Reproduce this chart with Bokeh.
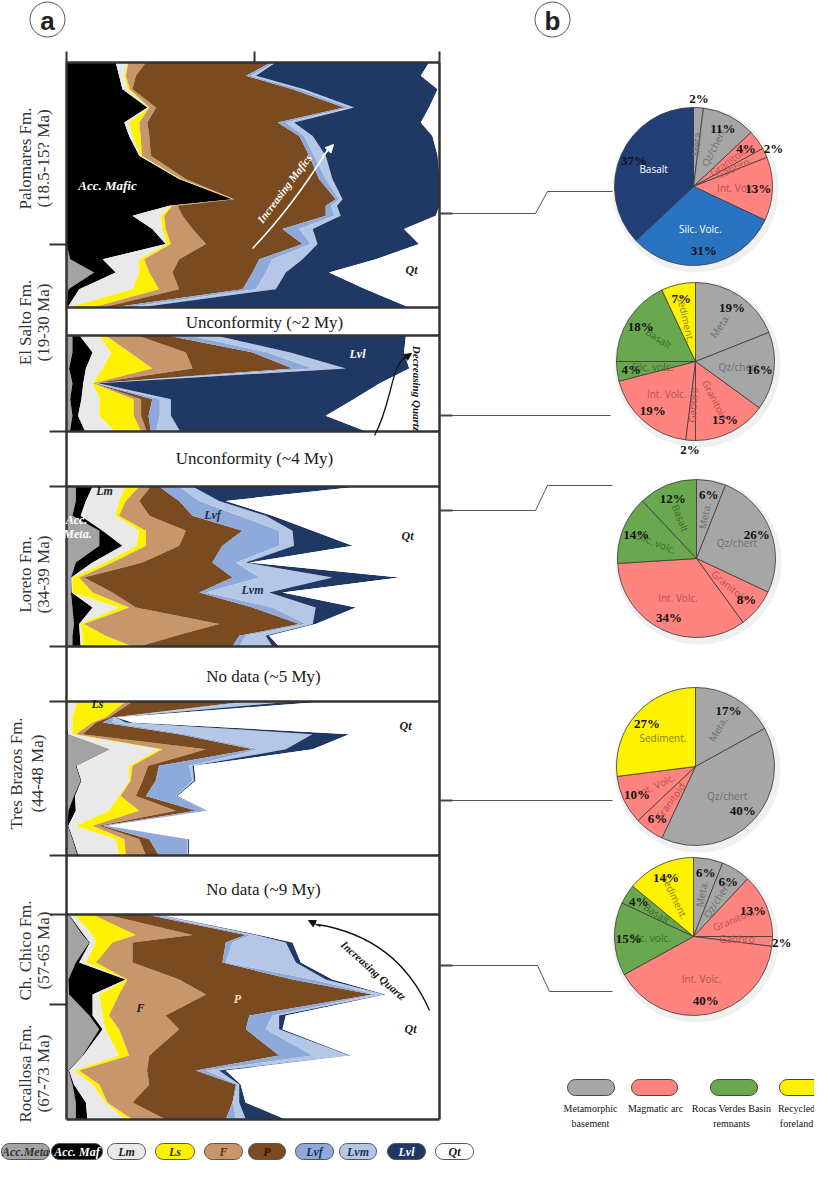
import numpy as np
from bokeh.plotting import figure
from bokeh.models import Range1d, ColumnDataSource, Arrow, NormalHead
from bokeh.core.properties import value
from bokeh.embed import file_html
from bokeh.resources import INLINE

# ---------------------------------------------------------------- data
components = ["acc_meta", "acc_maf", "lm", "ls", "f", "p", "lvf", "lvm", "lvl", "qt"]
component_labels = ["Acc.Meta", "Acc. Maf", "Lm", "Ls", "F", "P", "Lvf", "Lvm", "Lvl", "Qt"]

# relative stratigraphic position of each profile vertex (0 = top of panel, 1 = bottom)
# and cumulative upper boundary (%) of the first nine components (Qt fills to 100 %)
palomares_t = [0.0, 0.054, 0.109, 0.184, 0.245, 0.30, 0.381, 0.476, 0.558, 0.585,
               0.626, 0.68, 0.741, 0.803, 0.857, 0.925, 1.0]
palomares_bounds = [
    [0, 13.2, 16.4, 16.6, 21.3, 54.8, 55.7, 56.1, 97.2],
    [0, 14.1, 15.5, 15.9, 18.6, 48.1, 49.4, 50.8, 95.0],
    [0, 15.0, 16.4, 17.0, 17.7, 60.6, 62.4, 63.7, 99.5],
    [0, 21.7, 22.0, 22.2, 24.0, 74.4, 75.8, 77.1, 97.2],
    [0, 15.5, 16.8, 19.5, 21.7, 56.6, 58.8, 61.0, 95.0],
    [0, 16.8, 17.7, 19.9, 22.2, 62.4, 63.7, 66.0, 98.1],
    [0, 19.5, 19.9, 20.2, 22.6, 65.1, 66.4, 69.5, 99.5],
    [0, 30.2, 30.4, 30.7, 32.0, 67.7, 69.5, 71.3, 100],
    [0, 44.5, 44.7, 44.9, 45.0, 72.2, 73.1, 74.0, 100],
    [0, 27.5, 28.0, 28.4, 29.8, 69.5, 71.0, 72.5, 100],
    [0, 17.7, 25.3, 26.2, 31.1, 69.5, 71.8, 73.5, 99.0],
    [0, 23.0, 25.7, 26.6, 33.8, 57.9, 62.4, 66.0, 90.5],
    [0, 26.6, 27.0, 28.0, 37.4, 63.3, 65.5, 67.3, 94.5],
    [1.0, 9.7, 19.5, 20.8, 30.2, 51.7, 55.2, 63.3, 82.9],
    [7.4, 13.2, 19.5, 22.2, 28.4, 49.9, 53.4, 58.8, 70.4],
    [0.5, 3.4, 17.7, 24.8, 30.2, 47.2, 50.8, 56.1, 80.2],
    [0, 0.3, 0.5, 7.0, 9.7, 12.3, 15.9, 19.5, 91.9],
]

elsalto_t = [0.0, 0.177, 0.344, 0.497, 0.663, 0.837, 1.0]
elsalto_bounds = [
    [1.6, 3.5, 8.8, 10.5, 19.0, 27.0, 33.0, 40.0, 91.0],
    [1.6, 7.0, 12.0, 17.0, 32.0, 50.0, 54.0, 60.0, 90.5],
    [0.7, 5.2, 9.7, 23.0, 33.8, 60.6, 66.0, 74.9, 91.9],
    [1.6, 4.5, 7.0, 7.2, 7.4, 7.6, 8.0, 8.5, 84.0],
    [1.0, 4.0, 9.0, 18.0, 20.0, 23.0, 25.0, 28.0, 77.0],
    [1.6, 3.1, 8.8, 18.0, 20.0, 22.0, 25.0, 28.0, 69.5],
    [0.9, 5.0, 13.0, 20.0, 21.5, 22.6, 24.0, 30.5, 80.4],
]

loreto_t = [0.0, 0.09, 0.183, 0.277, 0.371, 0.475, 0.569, 0.663, 0.756, 0.86, 0.933, 1.0]
loreto_bounds = [
    [2.5, 7.0, 15.9, 19.5, 22.6, 24.8, 30.2, 33.8, 78.5],
    [2.5, 5.2, 14.1, 15.9, 19.5, 30.2, 35.6, 40.9, 42.7],
    [1.6, 3.8, 13.2, 14.1, 22.2, 33.8, 46.3, 53.4, 55.2],
    [8.8, 9.7, 19.5, 21.3, 32.0, 47.2, 57.0, 60.6, 66.0],
    [8.8, 15.0, 18.8, 21.3, 30.2, 41.8, 57.0, 61.0, 76.7],
    [2.5, 7.0, 10.5, 12.3, 20.4, 39.1, 45.4, 48.1, 49.0],
    [1.2, 1.3, 1.6, 3.4, 4.7, 44.5, 51.7, 71.3, 89.2],
    [1.2, 1.4, 1.6, 7.0, 12.3, 35.6, 37.4, 54.3, 57.9],
    [1.6, 7.0, 14.1, 16.8, 18.6, 49.9, 55.2, 66.8, 77.6],
    [2.0, 3.4, 3.8, 4.7, 40.9, 62.4, 64.2, 66.0, 66.8],
    [1.6, 3.6, 4.3, 10.5, 29.3, 46.3, 48.1, 53.4, 54.3],
    [1.6, 3.8, 4.3, 17.7, 19.5, 44.5, 46.3, 55.2, 57.0],
]

tresbrazos_t = [0.0, 0.104, 0.136, 0.212, 0.31, 0.418, 0.515, 0.613, 0.71, 0.807, 0.894, 1.0]
tresbrazos_bounds = [
    [0, 0, 2.9, 15.9, 17.7, 48.1, 49.9, 60.6, 69.5],
    [0, 0, 1.6, 10.5, 11.4, 12.3, 12.7, 13.2, 13.4],
    [0, 0, 1.6, 7.0, 7.9, 9.7, 12.3, 15.9, 17.7],
    [0.3, 0.5, 1.6, 2.5, 4.3, 30.2, 32.0, 65.9, 75.8],
    [11.4, 11.6, 24.8, 25.7, 37.4, 49.9, 51.7, 58.8, 66.0],
    [2.5, 2.7, 16.8, 17.7, 21.9, 24.8, 32.9, 33.8, 34.2],
    [3.8, 4.0, 16.8, 17.2, 20.4, 23.9, 33.8, 34.2, 34.6],
    [2.0, 2.3, 14.1, 14.5, 18.6, 21.3, 29.3, 29.5, 29.8],
    [0.5, 2.5, 11.4, 19.5, 29.3, 34.7, 37.4, 37.6, 37.8],
    [0.3, 0.5, 2.5, 7.0, 8.8, 9.7, 10.5, 10.9, 11.1],
    [1.6, 1.8, 13.2, 15.5, 19.5, 22.2, 32.4, 32.6, 32.9],
    [2.9, 3.2, 14.1, 15.9, 21.3, 24.8, 32.4, 32.6, 32.9],
]

chico_t = [0.0, 0.10, 0.137, 0.234, 0.317, 0.39, 0.493, 0.56, 0.688, 0.761, 0.829, 0.917, 1.0]
chico_bounds = [
    [0.5, 0.7, 2.1, 7.0, 10.5, 21.3, 23.0, 24.4, 24.8],
    [4.3, 4.7, 7.0, 18.6, 33.8, 48.1, 49.4, 50.8, 51.7],
    [6.1, 6.3, 7.9, 12.3, 17.7, 42.7, 44.5, 58.8, 60.6],
    [2.5, 3.4, 5.2, 7.9, 17.7, 41.8, 42.7, 61.5, 62.8],
    [0.5, 15.9, 16.1, 16.3, 30.2, 60.6, 66.0, 69.5, 71.3],
    [0.7, 7.0, 8.8, 14.1, 37.4, 82.0, 82.9, 85.2, 85.6],
    [6.1, 7.0, 9.7, 11.4, 26.6, 49.0, 55.2, 57.0, 58.8],
    [8.8, 9.7, 10.5, 14.1, 30.2, 48.1, 53.4, 57.0, 57.9],
    [4.3, 4.5, 14.1, 16.8, 22.2, 57.0, 66.0, 75.8, 76.2],
    [0.5, 0.7, 2.1, 3.4, 21.6, 34.7, 37.4, 40.9, 42.7],
    [1.6, 2.0, 7.0, 8.8, 22.2, 45.4, 45.8, 46.3, 46.7],
    [2.5, 5.2, 10.5, 11.0, 17.7, 44.5, 44.7, 46.3, 48.0],
    [2.5, 5.6, 15.9, 17.7, 26.6, 42.7, 45.4, 48.1, 58.8],
]

formation_names = ["Palomares Fm.", "El Salto Fm.", "Loreto Fm.", "Tres Brazos Fm.",
                   "Ch. Chico Fm.", "Rocallosa Fm."]
formation_ages = ["(18.5-15? Ma)", "(19-30 Ma)", "(34-39 Ma)", "(44-48 Ma)",
                  "(57-65 Ma)", "(67-73 Ma)"]
gap_labels = ["Unconformity (~2 My)", "Unconformity (~4 My)", "No data (~5 My)", "No data (~9 My)"]

pie_palomares_labels = ["Meta.", "Qz/chert", "Granitoid", "Gabbro", "Int. Volc.", "Silc. Volc.", "Basalt"]
pie_palomares_values = [2, 11, 4, 2, 13, 31, 37]
pie_elsalto_labels = ["Meta.", "Qz/chert", "Granitoid", "Gabbro", "Int. Volc.", "Silc. volc.", "Basalt", "Sediment."]
pie_elsalto_values = [19, 16, 15, 2, 19, 4, 18, 7]
pie_loreto_labels = ["Meta.", "Qz/chert", "Granitoid", "Int. Volc.", "Silc. volc.", "Basalt"]
pie_loreto_values = [6, 26, 8, 34, 14, 12]
pie_tresbrazos_labels = ["Meta.", "Qz/chert", "Granitoid", "Int. Volc.", "Sediment."]
pie_tresbrazos_values = [17, 40, 6, 10, 27]
pie_chico_labels = ["Meta.", "Qz/chert", "Granitoid", "Gabbro", "Int. Volc.", "Silc. volc.", "Basalt", "Sediment."]
pie_chico_values = [6, 6, 13, 2, 40, 15, 4, 14]

source_groups = [["Metamorphic", "basement"], ["Magmatic arc"],
                 ["Rocas Verdes Basin", "remnants"], ["Recycled", "foreland"]]

# ---------------------------------------------------------------- styles
comp_colors = ["#a3a3a3", "#000000", "#e9e9e9", "#fff200", "#c8966b", "#7a4a20",
               "#8eaadb", "#b4c7e7", "#1f3864", "#ffffff"]
legend_text_colors = ["#333333", "#ffffff", "#222222", "#333333", "#5a3a1a", "#2a1708",
                      "#1f3050", "#1f3050", "#ffffff", "#222222"]
GREY, SALMON, GREEN, YELLOW = "#a6a6a6", "#ff847f", "#6aa84f", "#fff200"
slice_colors = {"Meta.": GREY, "Qz/chert": GREY, "Granitoid": SALMON, "Gabbro": SALMON,
                "Int. Volc.": SALMON, "Silc. volc.": GREEN, "Basalt": GREEN, "Sediment.": YELLOW}
slice_text = {GREY: "#6f6f6f", SALMON: "#b5514d", GREEN: "#3d6b2a", YELLOW: "#8a7c00"}
pal_colors = [GREY, GREY, SALMON, SALMON, SALMON, "#2a73c0", "#213f77"]
radial_flags = [
    [1, 1, 1, 1, 0, 0, 0],
    [1, 0, 1, 1, 0, 0, 1, 1],
    [1, 0, 1, 0, 1, 1],
    [1, 0, 1, 1, 0],
    [1, 1, 1, 0, 0, 0, 1, 1],
]

W, H = 814, 1162


def X(x):
    return x - 8


def Y(y):
    return H + 8 - y


SERIF = value("Liberation Serif")
SANS = value("Liberation Sans")

p = figure(width=W, height=H, x_range=Range1d(0, W), y_range=Range1d(0, H),
           toolbar_location=None, output_backend="svg", min_border=0,
           x_axis_location=None, y_axis_location=None)
p.grid.visible = False
p.outline_line_color = None

# ---------------------------------------------------------------- panel a: stacked profiles
BOX_L, BOX_R = 74, 447
span = X(BOX_R) - X(BOX_L)
section_rows = [(70, 315), (343, 439), (494, 654), (709, 863), (922, 1127)]
section_data = [(palomares_t, palomares_bounds), (elsalto_t, elsalto_bounds),
                (loreto_t, loreto_bounds), (tresbrazos_t, tresbrazos_bounds),
                (chico_t, chico_bounds)]
yr = {}
for k, (ya, yb) in enumerate(section_rows):
    fa, fb = Y(ya), Y(yb)
    yr[f"s{k}"] = Range1d(start=(0 - fa) / (fb - fa), end=(H - fa) / (fb - fa))
p.extra_y_ranges = yr
p.extra_x_ranges = {"pct": Range1d(start=(0 - X(BOX_L)) / span * 100,
                                   end=(W - X(BOX_L)) / span * 100)}

for k, (tt, bb) in enumerate(section_data):
    b = np.array(bb, dtype=float)
    full = np.column_stack([np.zeros(len(b)), b, np.full(len(b), 100.0)])
    vals = np.diff(full, axis=1)
    d = {"t": tt}
    for i, c in enumerate(components):
        d[c] = vals[:, i]
    src = ColumnDataSource(d)
    p.harea_stack(stackers=components, y="t", source=src, fill_color=comp_colors,
                  x_range_name="pct", y_range_name=f"s{k}")

# frame lines
FRAME = "#333333"
hlines = [70, 315, 343, 439, 494, 654, 709, 863, 922, 1127]
p.segment(x0=[X(BOX_L)] * len(hlines), x1=[X(BOX_R)] * len(hlines),
          y0=[Y(v) for v in hlines], y1=[Y(v) for v in hlines],
          line_color=FRAME, line_width=2.5)
p.segment(x0=[X(BOX_L), X(BOX_R)], x1=[X(BOX_L), X(BOX_R)],
          y0=[Y(70)] * 2, y1=[Y(1127)] * 2, line_color=FRAME, line_width=2.5)
# top ticks
tx = [74, 262, 447]
p.segment(x0=[X(v) for v in tx], x1=[X(v) for v in tx], y0=[Y(59)] * 3, y1=[Y(70)] * 3,
          line_color=FRAME, line_width=2)
# left ticks
ly = [252, 439, 494, 654, 709, 863, 922, 1012]
p.segment(x0=[X(57)] * len(ly), x1=[X(74)] * len(ly), y0=[Y(v) for v in ly],
          y1=[Y(v) for v in ly], line_color=FRAME, line_width=2)

# gap texts
gap_pos = [(272, 330), (262, 466), (271, 684), (271, 897)]
p.text(x=[X(a) for a, _ in gap_pos], y=[Y(b) for _, b in gap_pos], text=gap_labels,
       text_font=SERIF, text_font_size="17px", text_align="center",
       text_baseline="middle", text_color="#1a1a1a")

# formation labels (rotated)
form_y = [166, 330, 582, 781, 958, 1081]
form_x1 = [33, 33, 33, 24, 33, 33]
form_x2 = [51, 51, 51, 45, 51, 51]
p.text(x=[X(v) for v in form_x1], y=[Y(v) for v in form_y], text=formation_names,
       angle=np.pi / 2, text_font=SERIF, text_font_size="17px", text_align="center",
       text_baseline="middle", text_color="#333333")
p.text(x=[X(v) for v in form_x2], y=[Y(v) for v in form_y], text=formation_ages,
       angle=np.pi / 2, text_font=SERIF, text_font_size="17px", text_align="center",
       text_baseline="middle", text_color="#333333")


# in-panel labels
def note(x, y, t, color="#1a1a1a", size="12px", angle=0.0):
    p.text(x=[X(x)], y=[Y(y)], text=[t], angle=angle, text_font=SERIF,
           text_font_size=size, text_font_style="bold italic", text_color=color,
           text_align="center", text_baseline="middle")


note(115, 193, "Acc. Mafic", "white", "13px")
note(292, 196, "Increasing Mafics", "white", "11px", np.radians(53))
note(419, 277, "Qt")
note(365, 361, "Lvl", "white")
note(424, 396, "Decreasing Quartz", "#111111", "11px", -np.pi / 2)
note(112, 498, "Lm", "#222222")
note(84, 527, "Acc.", "white")
note(85, 541, "Meta.", "white")
note(220, 522, "Lvf", "#1f2d50")
note(260, 597, "Lvm", "#1f2d50")
note(415, 543, "Qt")
note(105, 711, "Ls")
note(413, 733, "Qt")
note(148, 1015, "F")
note(245, 1006, "P", "#f3e3b0")
note(418, 1036, "Qt")
note(381, 978, "Increasing Quartz", "#111111", "11px", np.radians(-42))

# arrows
p.quadratic(x0=[X(260)], y0=[Y(256)], x1=[X(336)], y1=[Y(156)], cx=[X(300)], cy=[Y(214)],
            line_color="white", line_width=1.5)
p.add_layout(Arrow(end=NormalHead(size=8, fill_color="white", line_color="white"),
                   x_start=X(330), y_start=Y(164), x_end=X(341), y_end=Y(152),
                   line_color="white", line_width=1.5))
p.bezier(x0=[X(382)], y0=[Y(443)], x1=[X(414)], y1=[Y(364)], cx0=[X(400)], cy0=[Y(410)],
         cx1=[X(398)], cy1=[Y(372)], line_color="#111111", line_width=1.3)
p.add_layout(Arrow(end=NormalHead(size=7, fill_color="#111111", line_color="#111111"),
                   x_start=X(410), y_start=Y(367), x_end=X(419), y_end=Y(361),
                   line_color="#111111", line_width=1.3))
p.quadratic(x0=[X(437)], y0=[Y(1018)], x1=[X(325)], y1=[Y(932)], cx=[X(405)], cy=[Y(945)],
            line_color="#111111", line_width=1.3)
p.add_layout(Arrow(end=NormalHead(size=7, fill_color="#111111", line_color="#111111"),
                   x_start=X(328), y_start=Y(934), x_end=X(316), y_end=Y(928),
                   line_color="#111111", line_width=1.3))

# ---------------------------------------------------------------- panel letters
for cx, letter in [(55, "a"), (560, "b")]:
    p.scatter(x=[X(cx)], y=[Y(27)], size=35, marker="circle", fill_color="white",
              line_color="#555555", line_width=1)
    p.text(x=[X(cx)], y=[Y(28)], text=[letter], text_font=SANS, text_font_size="26px",
           text_font_style="bold", text_align="center", text_baseline="middle",
           text_color="#222222")

# ---------------------------------------------------------------- connectors
connectors = [
    [(447, 221), (543, 221), (555, 199), (620, 199)],
    [(447, 423), (618, 423)],
    [(447, 518), (543, 518), (555, 493), (620, 493)],
    [(447, 808), (620, 808)],
    [(447, 973), (545, 973), (557, 999), (620, 999)],
]
for c in connectors:
    p.line(x=[X(a) for a, _ in c], y=[Y(b) for _, b in c], line_color="#555555", line_width=1)
    p.segment(x0=[X(447)], y0=[Y(c[0][1])], x1=[X(460)], y1=[Y(c[0][1])],
              line_color="#444444", line_width=2)

# ---------------------------------------------------------------- panel b: pies
pie_centers = [(701, 194), (703, 369), (704, 566), (703, 774), (701, 944)]
R = 79
pies = [(pie_palomares_labels, pie_palomares_values),
        (pie_elsalto_labels, pie_elsalto_values),
        (pie_loreto_labels, pie_loreto_values),
        (pie_tresbrazos_labels, pie_tresbrazos_values),
        (pie_chico_labels, pie_chico_values)]
for k, ((labels, vals), (cx, cy)) in enumerate(zip(pies, pie_centers)):
    v = np.array(vals, dtype=float)
    cum = np.cumsum(v)
    prev = cum - v
    start = np.pi / 2 - 2 * np.pi * prev / 100
    end = np.pi / 2 - 2 * np.pi * cum / 100
    cols = pal_colors if k == 0 else [slice_colors[l] for l in labels]
    n = len(v)
    # soft shadow
    p.scatter(x=[X(cx) + 2], y=[Y(cy) - 3], size=2 * R + 8, marker="circle",
              fill_color="#000000", fill_alpha=0.06, line_color=None)
    p.wedge(x=[X(cx)] * n, y=[Y(cy)] * n, radius=R, start_angle=start, end_angle=end,
            direction="clock", fill_color=cols, line_color="#3a3a3a", line_width=0.8)
    mid = (start + end) / 2
    tcol = []
    ang = []
    for i in range(n):
        c = cols[i]
        tcol.append(slice_text.get(c, "white"))
        if radial_flags[k][i]:
            a = mid[i]
            while a > np.pi / 2:
                a -= np.pi
            while a <= -np.pi / 2:
                a += np.pi
            ang.append(a)
        else:
            ang.append(0.0)
    rn = 0.55 * R
    p.text(x=X(cx) + rn * np.cos(mid), y=Y(cy) + rn * np.sin(mid), text=labels,
           angle=ang, text_color=tcol, text_font=value("Open Sans"), text_font_size="10px",
           text_align="center", text_baseline="middle")
    rp = np.where(v <= 2, 1.12 * R, 0.82 * R)
    p.text(x=X(cx) + rp * np.cos(mid), y=Y(cy) + rp * np.sin(mid),
           text=[f"{int(a)}%" for a in v], text_font=SERIF, text_font_size="13px",
           text_font_style="bold", text_color="#111111", text_align="center",
           text_baseline="middle")


# ---------------------------------------------------------------- legends
def pill(x0, x1, yc, h, fill, line="#555555"):
    r = h / 2
    th1 = np.linspace(-np.pi / 2, np.pi / 2, 16)
    th2 = np.linspace(np.pi / 2, 3 * np.pi / 2, 16)
    xs = list(x1 - r + r * np.cos(th1)) + list(x0 + r + r * np.cos(th2))
    ys = list(yc - r * np.sin(th1)) + list(yc - r * np.sin(th2))
    p.patch(x=[X(a) for a in xs], y=[Y(b) for b in ys], fill_color=fill,
            line_color=line, line_width=1)


leg_x = [(9, 57), (59, 110), (115, 153), (163, 202), (212, 250), (256, 293),
         (303, 341), (347, 384), (395, 433), (443, 481)]
LEG_Y = 1159
for (a, b), fc, tc, lab in zip(leg_x, comp_colors, legend_text_colors, component_labels):
    pill(a, b, LEG_Y, 16, fc)
    p.text(x=[X((a + b) / 2)], y=[Y(LEG_Y)], text=[lab], text_font=SERIF,
           text_font_size="12px", text_font_style="bold italic", text_color=tc,
           text_align="center", text_baseline="middle")

grp_x = [(575, 622), (639, 685), (718, 765), (787, 832)]
grp_cols = [GREY, SALMON, GREEN, YELLOW]
grp_cx = [598, 663, 739, 804]
for (a, b), fc, gx, lines in zip(grp_x, grp_cols, grp_cx, source_groups):
    pill(a, b, 1095, 16, fc, "#444444")
    for j, t in enumerate(lines):
        p.text(x=[X(gx)], y=[Y(1116 + 15 * j)], text=[t], text_font=SERIF,
               text_font_size="10px", text_color="#111111", text_align="center",
               text_baseline="middle")

open("out.html", "w").write(file_html(p, INLINE))
